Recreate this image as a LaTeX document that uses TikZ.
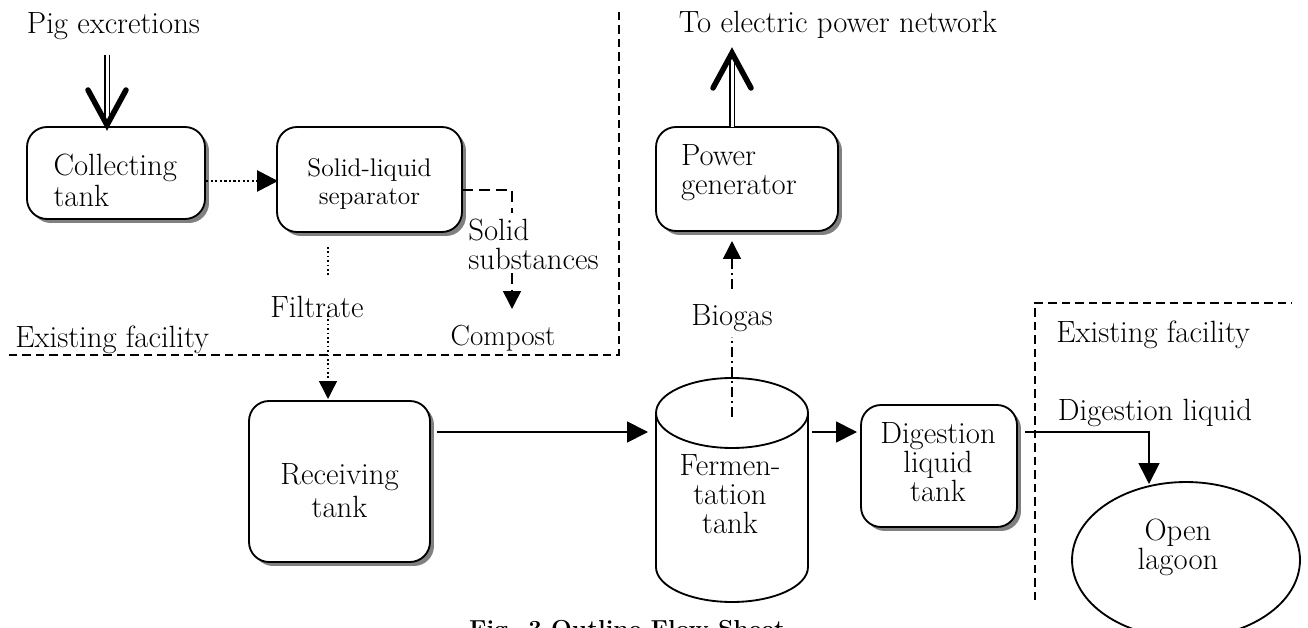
\documentclass[tikz,border=0pt]{standalone}
\usetikzlibrary{arrows.meta,shadows,calc,shapes.geometric}
\begin{document}
\begin{tikzpicture}[x=0.02cm,y=-0.02cm,
  font=\fontsize{17.5}{17.6}\selectfont,
  box/.style={draw, line width=1.05pt, rounded corners=0.4cm, fill=white, inner sep=0pt,
    general shadow={fill=black!50, shadow xshift=0.08cm, shadow yshift=-0.08cm}},
  txt/.style={inner sep=0pt},
  fs/.style={font={\fontsize{17.5}{#1}\selectfont\lineskiplimit=-30pt}},
  tipA/.style={-{Triangle[length=0.42cm,width=0.42cm]}},
  tipB/.style={-{Triangle[length=0.36cm,width=0.36cm]}},
  flow/.style={line width=1pt, tipA},
  dotflow/.style={line width=1.6pt, dash pattern=on 1.3pt off 1.3pt, tipA},
  thindot/.style={line width=0.8pt, dash pattern=on 0.9pt off 1.6pt},
  dashflow/.style={line width=0.9pt, dash pattern=on 0.22cm off 0.12cm},
  dashdotflow/.style={line width=0.9pt, dash pattern=on 0.2cm off 0.08cm on 0.04cm off 0.08cm},
  border/.style={line width=0.8pt, dash pattern=on 0.17cm off 0.1cm},
  dbl/.style={line width=0.6pt, double, double distance=0.06cm},
  chev/.style={line width=0.11cm, line cap=round, line join=miter},
]
\path[use as bounding box] (0,0) rectangle (1308,628);
\clip (0,0) rectangle (1308,628);

% boundaries
\coordinate (bl1) at (619,12);
\coordinate (bl2) at (619,355);
\coordinate (bl3) at (8,355);
\draw[border] (bl1) -- (bl2) -- (bl3);
\coordinate (br1) at (1035,600);
\coordinate (br2) at (1035,303);
\coordinate (br3) at (1292,303);
\draw[border] (br1) -- (br2) -- (br3);
\node[txt, anchor=base west] (exl) at (15,347) {Existing facility};
\node[txt, anchor=base west] (exr) at (1056,342) {Existing facility};

% boxes
\node[box, minimum width=3.56cm, minimum height=1.84cm] (collect) at (116,173) {};
\node[txt, text width=2.5cm, align=left] (collectt) at (116,180) {Collecting\\tank};
\node[box, minimum width=3.7cm, minimum height=2.1cm] (sep) at (369.5,179.5) {};
\node[txt, align=center, font=\fontsize{14.5}{15.5}\selectfont] (sept) at (369.5,184) {Solid-liquid\\separator};
\node[box, minimum width=3.64cm, minimum height=2.08cm] (power) at (747,179) {};
\node[txt, text width=2.64cm, align=left, fs=16.5] (powert) at (747,173) {Power\\generator};
\node[box, minimum width=3.62cm, minimum height=3.22cm] (recv) at (339.5,481.5) {};
\node[txt, align=center, fs=18.7] (recvt) at (339.5,491) {Receiving\\tank};
\node[box, minimum width=3.12cm, minimum height=2.44cm] (dig) at (939,466) {};
\node[txt, align=center, fs=16.5] (digt) at (938,462) {Digestion\\liquid\\tank};
\node[draw, ellipse, line width=1.05pt, inner sep=0pt, minimum width=4.56cm, minimum height=3.12cm] (lagoon) at (1186,560) {};
\node[txt, align=center, fs=16.5] (lagoont) at (1178,547) {Open\\lagoon};

% cylinder
\node[txt, minimum width=3.04cm, minimum height=4.48cm] (ferm) at (732,490) {};
\draw[line width=1.05pt] (656,413) -- (656,567) arc[start angle=180, end angle=360, x radius=1.52cm, y radius=0.7cm] -- (808,413);
\draw[line width=1.05pt] (732,413) ellipse [x radius=1.52cm, y radius=0.7cm];
\node[txt, align=center, fs=16.5] (fermt) at (730,494) {Fermen-\\tation\\tank};

% labels
\node[txt, anchor=base] (pig) at (113.5,34) {Pig excretions};
\node[txt, anchor=base] (net) at (838,33) {To electric power network};
\node[txt, text width=2.4cm, align=left, anchor=west, fs=16.5] (solid) at (468,244) {Solid\\substances};
\node[txt, font=\fontsize{16.5}{17}\selectfont, anchor=base] (compost) at (503,345) {Compost};
\node[txt, anchor=base] (filt) at (317,317) {Filtrate};
\node[txt, anchor=base] (bio) at (732,325) {Biogas};
\node[txt, anchor=base] (digl) at (1155,420) {Digestion liquid};
\node[txt, font=\bfseries\fontsize{14}{16}\selectfont, anchor=base] (cap) at (627,637) {Fig. 3 Outline Flow Sheet};

% pig excretions arrow
\coordinate (p1) at (107,55);
\coordinate (p2) at (107,122);
\draw[dbl] (p1) -- (p2);
\draw[chev] (88,90) -- (107,125) -- (126,90);

% power network arrow
\coordinate (n1) at (732,127);
\coordinate (n2) at (732,58);
\draw[dbl] (n1) -- (n2);
\draw[chev] (713,88) -- (732,53) -- (751,88);

% collecting -> separator
\coordinate (c1) at (206,181);
\coordinate (c2) at (278,181);
\draw[dotflow] (c1) -- (c2);

% separator -> compost
\coordinate (s1) at (462,190);
\coordinate (s2) at (512,190);
\coordinate (s3) at (512,213);
\coordinate (s4) at (512,273);
\coordinate (s5) at (512,309);
\draw[dashflow] (s1) -- (s2) -- (s3);
\draw[dashflow, tipB] (s4) -- (s5);

% filtrate
\coordinate (f1) at (328,247);
\coordinate (f2) at (328,277);
\coordinate (f3) at (328,315);
\coordinate (f4) at (328,399);
\draw[thindot] (f1) -- (f2);
\draw[thindot, tipB] (f3) -- (f4);

% receiving -> fermentation
\coordinate (r1) at (437,432);
\coordinate (r2) at (648,432);
\draw[flow] (r1) -- (r2);

% fermentation -> digestion
\coordinate (d1) at (812,432);
\coordinate (d2) at (857,432);
\draw[flow] (d1) -- (d2);

% biogas
\coordinate (b1) at (732,417);
\coordinate (b2) at (732,337);
\coordinate (b3) at (732,289);
\coordinate (b4) at (732,241);
\draw[dashdotflow] (b1) -- (b2);
\draw[dashdotflow, tipB] (b3) -- (b4);

% digestion -> lagoon
\coordinate (g1) at (1025,432);
\coordinate (g2) at (1149,432);
\coordinate (g3) at (1149,484);
\draw[flow] (g1) -- (g2) -- (g3);

\end{tikzpicture}
\end{document}
